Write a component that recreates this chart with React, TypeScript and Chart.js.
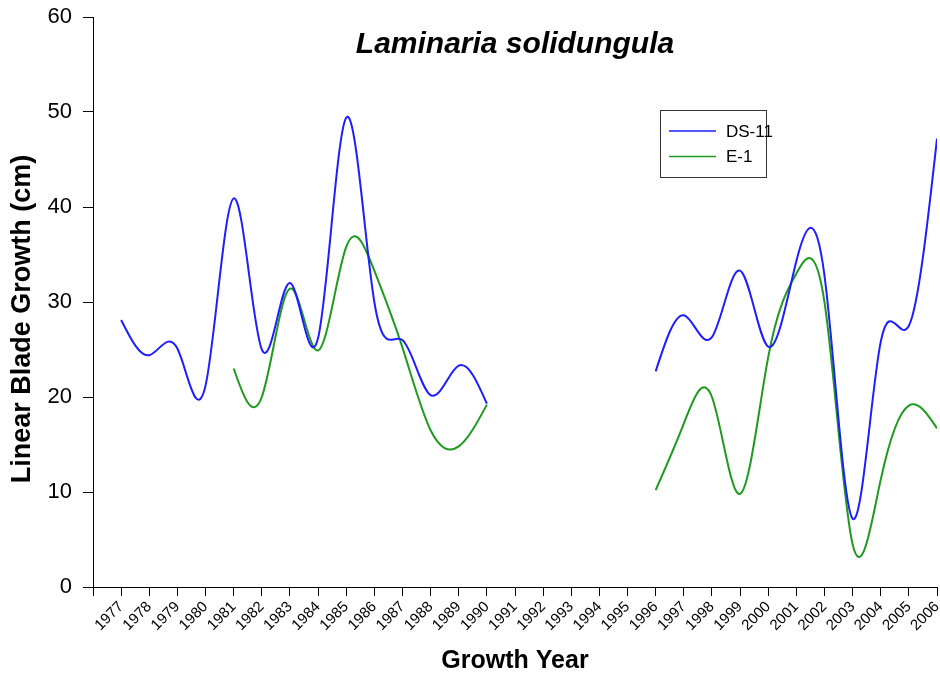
import React, { useEffect, useRef } from 'react';
import { Chart, registerables } from 'chart.js';

Chart.register(...registerables);

const years = [1977, 1978, 1979, 1980, 1981, 1982, 1983, 1984, 1985, 1986, 1987, 1988, 1989, 1990, 1991, 1992, 1993, 1994, 1995, 1996, 1997, 1998, 1999, 2000, 2001, 2002, 2003, 2004, 2005, 2006];
const ds11 = [28.1, 24.4, 25.1, 21.2, 40.9, 25.0, 32.0, 26.2, 49.4, 30.0, 26.0, 20.2, 23.3, 19.3, null, null, null, null, null, 22.7, 28.6, 26.3, 33.3, 25.3, 34.3, 32.8, 7.2, 25.8, 27.5, 47.2];
const e1 = [null, null, null, null, 23.0, 20.0, 31.4, 24.9, 35.8, 33.3, 25.2, 16.5, 14.8, 19.2, null, null, null, null, null, 10.2, 17.2, 20.0, 9.8, 24.2, 33.0, 30.0, 4.5, 11.3, 19.1, 16.7];
const seriesNames = ['DS-11', 'E-1'];
const seriesColors = ['rgb(30,30,255)', 'rgb(30,155,30)'];
const chartTitle = 'Laminaria solidungula';
const xTitle = 'Growth Year';
const yTitle = 'Linear Blade Growth (cm)';
const yMin = 0;
const yMax = 60;
const yStep = 10;
const xMin = 1976;
const xMax = 2006;

const FONT = "'Liberation Sans', Arial, Helvetica, sans-serif";

// Natural cubic spline through the library's own point positions,
// written into the control points of Chart.js's line/point elements.
function naturalSlopes(xs: number[], ys: number[]): number[] {
  const n = xs.length;
  if (n === 2) {
    const s = (ys[1] - ys[0]) / (xs[1] - xs[0]);
    return [s, s];
  }
  const h: number[] = [];
  for (let i = 0; i < n - 1; i++) h.push(xs[i + 1] - xs[i]);
  const M = new Array(n).fill(0);
  const a: number[] = [], b: number[] = [], c: number[] = [], d: number[] = [];
  for (let i = 1; i < n - 1; i++) {
    a.push(h[i - 1]);
    b.push(2 * (h[i - 1] + h[i]));
    c.push(h[i]);
    d.push(6 * ((ys[i + 1] - ys[i]) / h[i] - (ys[i] - ys[i - 1]) / h[i - 1]));
  }
  const m = b.length;
  for (let i = 1; i < m; i++) {
    const w = a[i] / b[i - 1];
    b[i] -= w * c[i - 1];
    d[i] -= w * d[i - 1];
  }
  const sol = new Array(m).fill(0);
  sol[m - 1] = d[m - 1] / b[m - 1];
  for (let i = m - 2; i >= 0; i--) sol[i] = (d[i] - c[i] * sol[i + 1]) / b[i];
  for (let i = 0; i < m; i++) M[i + 1] = sol[i];
  const slopes: number[] = [];
  for (let i = 0; i < n - 1; i++) {
    slopes.push((ys[i + 1] - ys[i]) / h[i] - (h[i] * (2 * M[i] + M[i + 1])) / 6);
  }
  slopes.push((ys[n - 1] - ys[n - 2]) / h[n - 2] + (h[n - 2] * (M[n - 2] + 2 * M[n - 1])) / 6);
  return slopes;
}

const splinePlugin = {
  id: 'xspline',
  beforeDatasetDraw(chart: any, args: any) {
    const meta = args.meta;
    const line = meta.dataset;
    if (!line) return;
    line.updateControlPoints(chart.chartArea, meta.indexAxis);
    const runs: any[][] = [];
    let cur: any[] = [];
    meta.data.forEach((p: any) => {
      if (p.skip) {
        if (cur.length) runs.push(cur);
        cur = [];
      } else cur.push(p);
    });
    if (cur.length) runs.push(cur);
    runs.forEach((r) => {
      const n = r.length;
      if (n < 2) return;
      const m = naturalSlopes(r.map((p) => p.x), r.map((p) => p.y));
      for (let i = 0; i < n; i++) {
        const p = r[i];
        if (i > 0) {
          const dx = (p.x - r[i - 1].x) / 3;
          p.cp1x = p.x - dx;
          p.cp1y = p.y - m[i] * dx;
        } else {
          p.cp1x = p.x;
          p.cp1y = p.y;
        }
        if (i < n - 1) {
          const dx = (r[i + 1].x - p.x) / 3;
          p.cp2x = p.x + dx;
          p.cp2y = p.y + m[i] * dx;
        } else {
          p.cp2x = p.x;
          p.cp2y = p.y;
        }
      }
    });
    line._path = undefined;
  },
};

const overlayPlugin = {
  id: 'overlay',
  afterDraw(chart: any) {
    const ctx = chart.ctx;
    const area = chart.chartArea;
    ctx.save();
    ctx.fillStyle = '#000';
    ctx.font = `italic bold 30px ${FONT}`;
    ctx.textAlign = 'center';
    ctx.textBaseline = 'middle';
    ctx.fillText(chartTitle, (area.left + area.right) / 2, 45);
    ctx.save();
    ctx.translate(23, 319);
    ctx.rotate(-Math.PI / 2);
    ctx.font = `bold 27px ${FONT}`;
    ctx.fillText(yTitle, 0, 0);
    ctx.restore();
    const bx = 660.5, by = 110.5, bw = 106, bh = 67;
    ctx.fillStyle = '#fff';
    ctx.fillRect(bx, by, bw, bh);
    ctx.strokeStyle = '#333';
    ctx.lineWidth = 1;
    ctx.strokeRect(bx, by, bw, bh);
    ctx.font = `17px ${FONT}`;
    ctx.textAlign = 'left';
    chart.data.datasets.forEach((ds: any, i: number) => {
      const y = 131 + i * 25.5;
      ctx.strokeStyle = ds.borderColor;
      ctx.lineWidth = 1.5;
      ctx.beginPath();
      ctx.moveTo(669, y);
      ctx.lineTo(716, y);
      ctx.stroke();
      ctx.fillStyle = '#000';
      ctx.fillText(ds.label, 726, y + 1);
    });
    ctx.restore();
  },
};

export default function App() {
  const ref = useRef<HTMLCanvasElement | null>(null);
  useEffect(() => {
    if (!ref.current) return;
    const mk = (i: number, vals: (number | null)[]) => ({
      label: seriesNames[i],
      data: years.map((yr, k) => ({ x: yr, y: vals[k] })),
      borderColor: seriesColors[i],
      backgroundColor: seriesColors[i],
      borderWidth: 2,
      pointRadius: 0,
      tension: 0.4,
      spanGaps: false,
      fill: false,
    });
    const chart = new Chart(ref.current, {
      type: 'line',
      data: { datasets: [mk(0, ds11), mk(1, e1)] },
      options: {
        animation: false,
        responsive: true,
        maintainAspectRatio: false,
        layout: { padding: { left: 0, right: 3, top: 17, bottom: 0 } },
        plugins: {
          legend: { display: false },
          tooltip: { enabled: false },
          title: { display: false },
        },
        scales: {
          x: {
            type: 'linear',
            min: xMin,
            max: xMax,
            grid: { display: true, drawOnChartArea: false, drawTicks: true, tickLength: 9, color: '#000' },
            border: { display: true, color: '#000', width: 1 },
            ticks: {
              stepSize: 1,
              autoSkip: false,
              maxRotation: 45,
              minRotation: 45,
              padding: 2,
              color: '#000',
              font: { family: FONT, size: 15 },
              callback: (v: any) => (v === xMin ? '' : String(v)),
            },
            title: {
              display: true,
              text: xTitle,
              color: '#000',
              font: { family: FONT, size: 25, weight: 'bold' },
              padding: { top: 4, bottom: 1 },
            },
            afterFit: (s: any) => {
              s.height = 90;
              s.paddingLeft = 0;
              s.paddingRight = 0;
            },
          },
          y: {
            type: 'linear',
            min: yMin,
            max: yMax,
            grid: { display: true, drawOnChartArea: false, drawTicks: true, tickLength: 10, color: '#000' },
            border: { display: true, color: '#000', width: 1 },
            ticks: {
              stepSize: yStep,
              padding: 11,
              color: '#000',
              font: { family: FONT, size: 22 },
            },
            title: { display: false },
            afterFit: (s: any) => {
              s.width = 93;
              s.paddingTop = 0;
              s.paddingBottom = 0;
            },
          },
        },
      },
      plugins: [splinePlugin, overlayPlugin],
    });
    return () => chart.destroy();
  }, []);
  return (
    <div style={{ position: 'absolute', left: 0, top: 0, width: 940, height: 677, background: '#fff' }}>
      <canvas ref={ref} />
    </div>
  );
}
